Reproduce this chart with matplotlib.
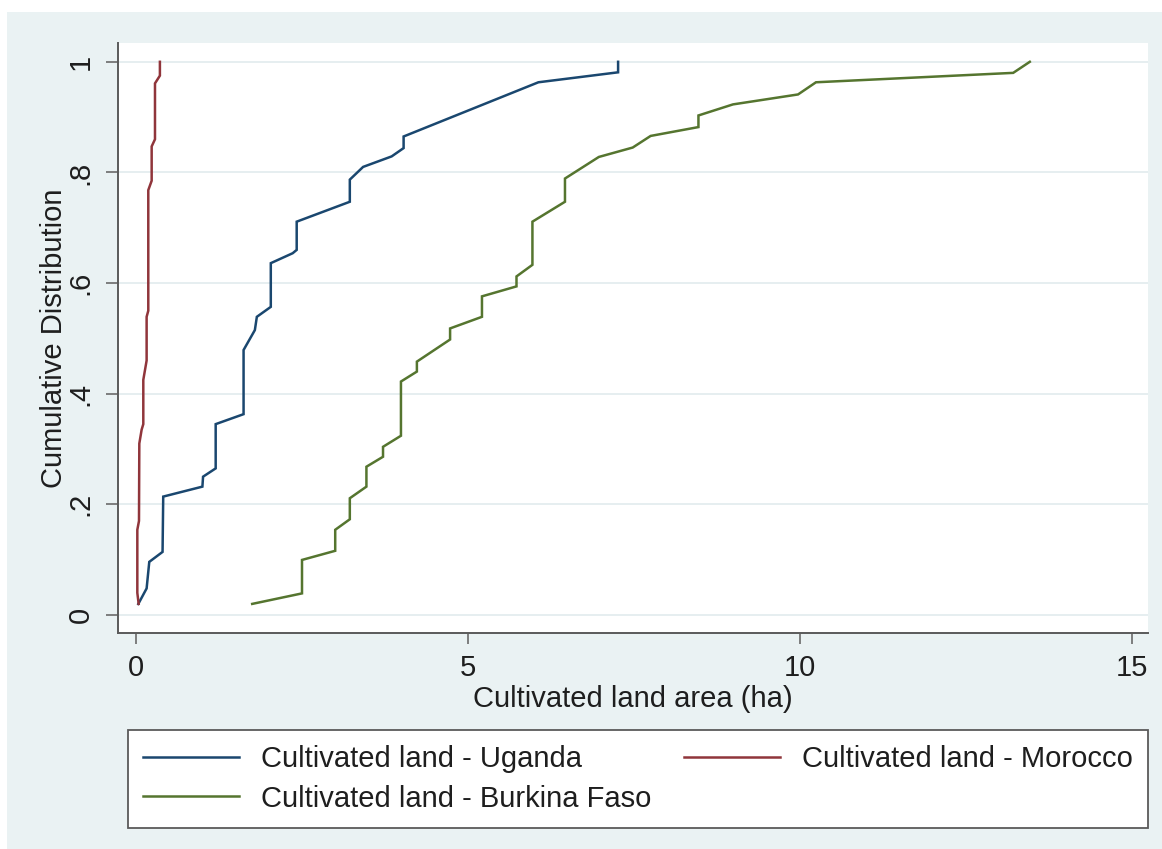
import matplotlib
matplotlib.use("Agg")
import matplotlib.pyplot as plt
from matplotlib.patches import Rectangle

plt.rcParams["font.family"] = ["Liberation Sans", "DejaVu Sans"]

# Cumulative distribution curves
uganda_x = [0.035, 0.16, 0.20, 0.40, 0.41, 1.00, 1.01, 1.20, 1.20, 1.62, 1.62, 1.79,
            1.82, 2.03, 2.03, 2.36, 2.42, 2.42, 3.22, 3.22, 3.42, 3.85, 4.03, 4.03,
            6.06, 7.26, 7.26]
uganda_y = [0.02, 0.048, 0.096, 0.114, 0.214, 0.232, 0.25, 0.265, 0.345, 0.363, 0.479, 0.515,
            0.539, 0.557, 0.636, 0.654, 0.66, 0.711, 0.747, 0.787, 0.81, 0.829, 0.844, 0.865,
            0.963, 0.981, 1.0]

morocco_x = [0.04, 0.02, 0.02, 0.045, 0.05, 0.085, 0.11, 0.11, 0.16, 0.16, 0.185, 0.185,
             0.236, 0.236, 0.286, 0.286, 0.36, 0.36]
morocco_y = [0.02, 0.04, 0.154, 0.17, 0.31, 0.335, 0.345, 0.425, 0.46, 0.539, 0.55, 0.768,
             0.785, 0.847, 0.86, 0.961, 0.975, 1.0]

burkina_x = [1.75, 2.50, 2.50, 3.0, 3.0, 3.22, 3.22, 3.47, 3.47, 3.72, 3.72, 3.99, 3.99,
             4.23, 4.23, 4.73, 4.73, 5.21, 5.21, 5.73, 5.73, 5.97, 5.97, 6.46, 6.46, 6.97,
             7.48, 7.75, 8.47, 8.47, 8.99, 9.97, 10.24, 13.21, 13.46]
burkina_y = [0.02, 0.039, 0.0995, 0.116, 0.154, 0.173, 0.211, 0.232, 0.268, 0.286, 0.304,
             0.324, 0.422, 0.44, 0.458, 0.498, 0.518, 0.539, 0.576, 0.594, 0.612, 0.633,
             0.711, 0.747, 0.789, 0.828, 0.845, 0.866, 0.882, 0.903, 0.923, 0.941, 0.963,
             0.98, 1.0]

labels = ["Cultivated land - Uganda", "Cultivated land - Morocco",
          "Cultivated land - Burkina Faso"]
colors = ["#1a476f", "#90353b", "#55752f"]

x_ticks = [0, 5, 10, 15]
y_ticks = [0, 0.2, 0.4, 0.6, 0.8, 1.0]
y_ticklabels = ["0", ".2", ".4", ".6", ".8", "1"]

W, H = 1162, 849
fig = plt.figure(figsize=(W / 100, H / 100), dpi=100, facecolor="white")

# Stata-like outer background
fig.patches.append(Rectangle((7 / W, 0), 1 - 7 / W, 1 - 12 / H, transform=fig.transFigure,
                             facecolor="#eaf2f3", edgecolor="none", zorder=-5))

ax = fig.add_axes([118 / W, (H - 633) / H, (1148 - 118) / W, (633 - 43) / H])
ax.set_facecolor("white")

lines = []
for xs, ys, c in [(uganda_x, uganda_y, colors[0]),
                  (morocco_x, morocco_y, colors[1]),
                  (burkina_x, burkina_y, colors[2])]:
    ln, = ax.plot(xs, ys, color=c, lw=1.8, solid_joinstyle="miter")
    lines.append(ln)

ax.set_xlim(-0.271, 15.24)
ax.set_ylim(-0.0326, 1.034)
ax.set_xticks(x_ticks)
ax.set_yticks(y_ticks)
ax.set_yticklabels(y_ticklabels, rotation=90, va="center")
ax.grid(axis="y", color="#e6eef0", lw=1.4)
ax.set_axisbelow(True)

for s in ["top", "right"]:
    ax.spines[s].set_visible(False)
for s in ["left", "bottom"]:
    ax.spines[s].set_color("#5a5a5a")
    ax.spines[s].set_linewidth(1.4)

ax.tick_params(axis="y", length=9, width=1.2, color="#6a6a6a", pad=8,
               labelsize=21, labelcolor="#1e1e1e")
ax.tick_params(axis="x", length=8, width=1.2, color="#6a6a6a", pad=7,
               labelsize=21, labelcolor="#1e1e1e")

ax.set_xlabel("Cultivated land area (ha)", fontsize=21, color="#1e1e1e", labelpad=2)
ax.set_ylabel("Cumulative Distribution", fontsize=21, color="#1e1e1e", labelpad=-1)

# column-major fill: Uganda / Burkina Faso in column 1, Morocco in column 2
leg = fig.legend([lines[0], lines[2], lines[1]], [labels[0], labels[2], labels[1]],
                 loc="upper left", bbox_to_anchor=(128 / W, 1 - 730 / H),
                 ncol=2, fontsize=21, frameon=True, fancybox=False, borderaxespad=0,
                 handlelength=3.3, handletextpad=0.75, columnspacing=1.1,
                 labelspacing=0.39, borderpad=0.52, framealpha=1)
leg.get_frame().set_facecolor("white")
leg.get_frame().set_edgecolor("#5a5a5a")
leg.get_frame().set_linewidth(1.3)
for t in leg.get_texts():
    t.set_color("#1e1e1e")

fig.savefig("out.png", dpi=100)
